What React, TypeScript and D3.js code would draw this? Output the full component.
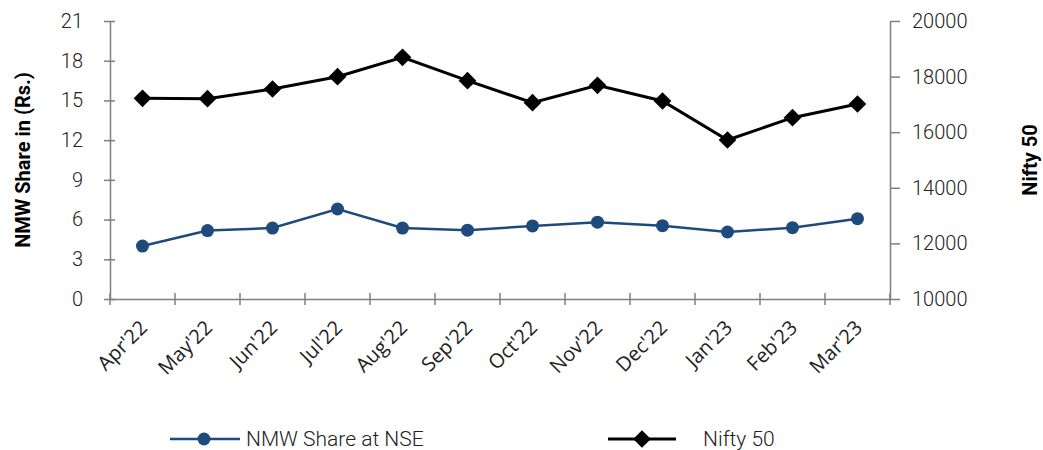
import { useEffect, useRef } from 'react';
import * as d3 from 'd3';

const months = ["Apr'22", "May'22", "Jun'22", "Jul'22", "Aug'22", "Sep'22", "Oct'22", "Nov'22", "Dec'22", "Jan'23", "Feb'23", "Mar'23"];
const nmwShare = [4.0, 5.17, 5.36, 6.8, 5.36, 5.2, 5.52, 5.8, 5.54, 5.06, 5.39, 6.07];
const nifty50 = [17220, 17205, 17554, 17996, 18695, 17853, 17061, 17687, 17122, 15720, 16522, 17014];
const leftTicks = [0, 3, 6, 9, 12, 15, 18, 21];
const rightTicks = [10000, 12000, 14000, 16000, 18000, 20000];

const BLUE = '#1f4a7c';
const AXIS = '#7f7f7f';
const TICK_FONT = "Roboto, 'Liberation Sans', sans-serif";

export default function App() {
	const ref = useRef<SVGSVGElement | null>(null);

	useEffect(() => {
		if (!ref.current) return;
		const svg = d3.select(ref.current);
		svg.selectAll('*').remove();

		const left = 110;
		const right = 890;
		const top = 21;
		const bottom = 299;

		const x = d3.scaleBand().domain(months).range([left, right]);
		const yL = d3.scaleLinear().domain([0, 21]).range([bottom, top]);
		const yR = d3.scaleLinear().domain([10000, 20000]).range([bottom, top]);

		// left axis
		const gl = svg.append('g').attr('transform', `translate(${left},0)`).call(d3.axisLeft(yL).tickValues(leftTicks).tickSize(6).tickSizeOuter(0));
		gl.select('.domain').attr('stroke', AXIS).attr('stroke-width', 1.5);
		gl.selectAll('.tick line').attr('stroke', AXIS).attr('stroke-width', 1.5).attr('x1', 5).attr('x2', -6);
		gl.selectAll('.tick text').attr('x', -27).attr('fill', '#222').style('font-family', TICK_FONT).style('font-size', '20px').style('font-weight', 300);

		// right axis
		const gr = svg.append('g').attr('transform', `translate(${right},0)`).call(d3.axisRight(yR).tickValues(rightTicks).tickFormat(d3.format('d')).tickSize(10).tickSizeOuter(0));
		gr.select('.domain').attr('stroke', AXIS).attr('stroke-width', 1.5);
		gr.selectAll('.tick line').attr('stroke', AXIS).attr('stroke-width', 1.5);
		gr.selectAll('.tick text').attr('x', 22).attr('fill', '#222').style('font-family', TICK_FONT).style('font-size', '20px').style('font-weight', 300);

		// x axis
		const gx = svg.append('g').attr('transform', `translate(0,${bottom})`).call(d3.axisBottom(x).tickSize(0));
		gx.select('.domain').attr('stroke', AXIS).attr('stroke-width', 1.5);
		const edges = [...months.map(m => x(m) as number), right];
		gx.selectAll('line.sep')
			.data(edges)
			.join('line')
			.attr('class', 'sep')
			.attr('x1', d => d)
			.attr('x2', d => d)
			.attr('y1', -6)
			.attr('y2', 6)
			.attr('stroke', AXIS)
			.attr('stroke-width', 1.5);
		gx.selectAll('.tick text')
			.attr('y', 0)
			.attr('dy', 0)
			.attr('text-anchor', 'end')
			.attr('transform', 'translate(6,30) rotate(-45)')
			.attr('fill', '#222')
			.style('font-family', "'Open Sans', sans-serif")
			.style('font-size', '20px');

		const cx = (m: string) => (x(m) as number) + x.bandwidth() / 2;

		// Nifty 50
		const lineR = d3.line<number>().x((_, i) => cx(months[i])).y(d => yR(d));
		svg.append('path').datum(nifty50).attr('fill', 'none').attr('stroke', '#000').attr('stroke-width', 3).attr('d', lineR);
		const diamond = d3.symbol().type(d3.symbolDiamond2).size(200);
		svg.selectAll('path.nifty')
			.data(nifty50)
			.join('path')
			.attr('class', 'nifty')
			.attr('d', diamond)
			.attr('transform', (d, i) => `translate(${cx(months[i])},${yR(d)})`)
			.attr('fill', '#000');

		// NMW share
		const lineL = d3.line<number>().x((_, i) => cx(months[i])).y(d => yL(d));
		svg.append('path').datum(nmwShare).attr('fill', 'none').attr('stroke', BLUE).attr('stroke-width', 2.5).attr('d', lineL);
		svg.selectAll('circle.nmw')
			.data(nmwShare)
			.join('circle')
			.attr('class', 'nmw')
			.attr('cx', (d, i) => cx(months[i]))
			.attr('cy', d => yL(d))
			.attr('r', 6.5)
			.attr('fill', BLUE);

		// axis titles
		svg.append('text')
			.attr('transform', `translate(30,${(top + bottom) / 2}) rotate(-90)`)
			.attr('text-anchor', 'middle')
			.style('font-family', "Roboto, sans-serif")
			.style('font-size', '20px')
			.style('font-weight', 700)
			.text('NMW Share in (Rs.)');
		svg.append('text')
			.attr('transform', `translate(1037,${(top + bottom) / 2}) rotate(-90)`)
			.attr('text-anchor', 'middle')
			.style('font-family', "Roboto, sans-serif")
			.style('font-size', '20px')
			.style('font-weight', 700)
			.text('Nifty 50');

		// legend
		const ly = 439;
		const lg = svg.append('g');
		lg.append('line').attr('x1', 170).attr('x2', 240).attr('y1', ly).attr('y2', ly).attr('stroke', BLUE).attr('stroke-width', 2.5);
		lg.append('circle').attr('cx', 204).attr('cy', ly).attr('r', 6.5).attr('fill', BLUE);
		lg.append('text').attr('x', 246).attr('y', ly + 7).style('font-family', TICK_FONT).style('font-size', '21px').style('font-weight', 300).attr('fill', '#222').text('NMW Share at NSE');
		lg.append('line').attr('x1', 608).attr('x2', 676).attr('y1', ly).attr('y2', ly).attr('stroke', '#000').attr('stroke-width', 3);
		lg.append('path').attr('d', diamond).attr('transform', `translate(642,${ly})`).attr('fill', '#000');
		lg.append('text').attr('x', 703).attr('y', ly + 7).style('font-family', TICK_FONT).style('font-size', '21px').style('font-weight', 300).attr('fill', '#222').text('Nifty 50');
	}, []);

	return <svg width="1043" height="450" ref={ref} style={{ position: 'absolute', left: 0, top: 0, background: '#fff' }} />;
}
